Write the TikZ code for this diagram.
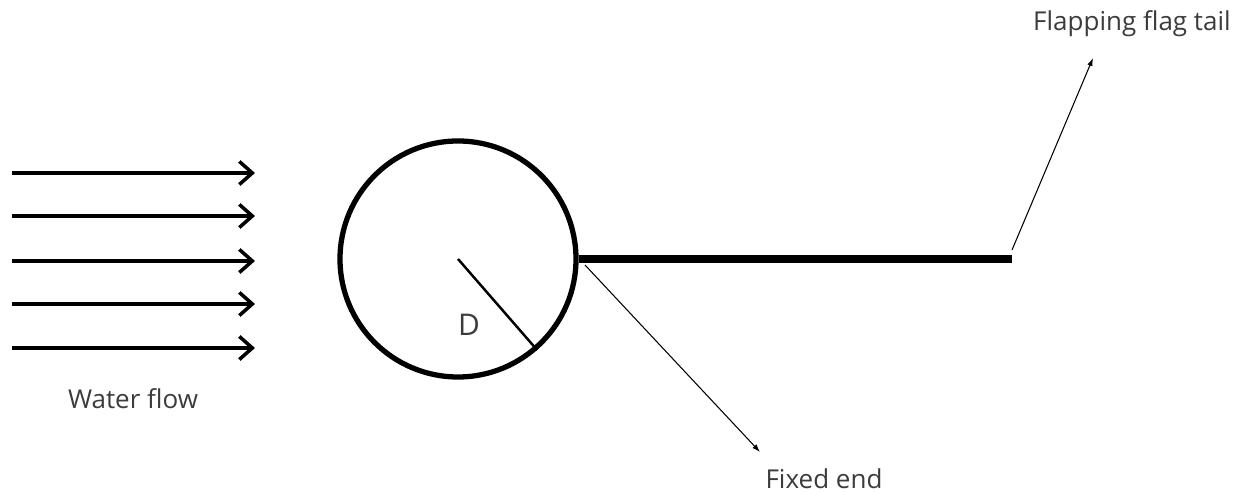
\documentclass[tikz,border=0pt]{standalone}
\usepackage{fontspec}
\setmainfont{Open Sans}
\usepackage{xcolor}
\usetikzlibrary{arrows.meta,positioning,calc}

\definecolor{labelgray}{HTML}{3c3c3c}

\begin{document}
\begin{tikzpicture}[
  flow/.style={-{Straight Barb[length=2.6mm,width=4.6mm,line width=2pt]},line width=2.7pt},
  pointer/.style={-{Latex[length=1.6mm,width=1.1mm]},line width=0.6pt},
  lbl/.style={text=labelgray,font=\fontsize{14.8}{17}\selectfont,inner sep=1pt}]
  \useasboundingbox (0,0) rectangle (24.8,9.88);
  % incoming water
  \foreach \y [count=\i] in {6.42,5.56,4.66,3.80,2.92}{
    \coordinate (f\i s) at (0.24,\y);
    \coordinate (f\i e) at (5.10,\y);
    \draw[flow] (f\i s) -- (f\i e);
  }
  \node[lbl] (water) at (2.66,1.90) {Water flow};
  % cylinder and diameter mark
  \node[circle,draw,line width=3pt,minimum size=4.72cm,inner sep=0pt] (cyl) at (9.16,4.70) {};
  \draw[line width=1.4pt] (cyl.center) -- (cyl.-49.6);
  \node[lbl,font=\fontsize{17}{20}\selectfont] (dia) at (9.38,3.38) {D};
  % flag
  \coordinate (tail) at (20.24,4.70);
  \draw[line width=4.5pt] (cyl.east) -- (tail);
  \node[lbl] (flap) at (22.64,9.40) {Flapping flag tail};
  \node[lbl] (fix) at (16.48,0.30) {Fixed end};
  \coordinate (tailtip) at (20.24,4.88);
  \coordinate (flaptip) at (21.86,8.72);
  \coordinate (fixtip) at (11.70,4.58);
  \coordinate (fixend) at (15.20,0.84);
  \draw[pointer] (tailtip) -- (flaptip);
  \draw[pointer] (fixtip) -- (fixend);
\end{tikzpicture}
\end{document}
